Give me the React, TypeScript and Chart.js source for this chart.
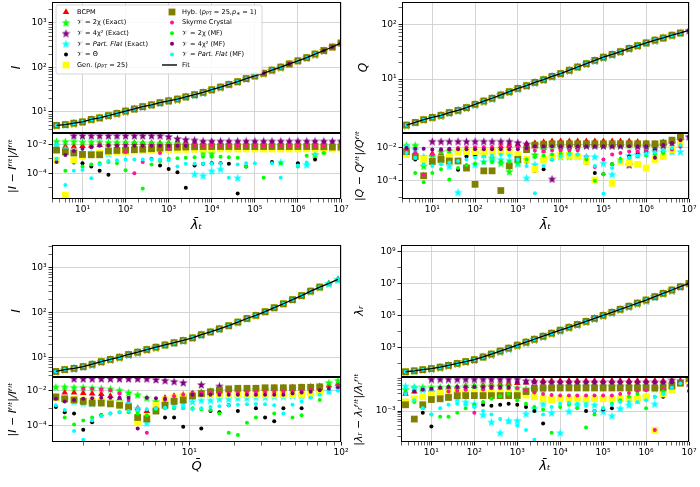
import { useEffect, useRef } from "react";
import { Chart, registerables } from "chart.js";

Chart.register(...registerables);
Chart.defaults.font.family = "'DejaVu Sans', sans-serif";
Chart.defaults.font.size = 9;
Chart.defaults.color = "#000";

const _ = null;
type Val = number | null;

// sample points of λ̄_t (three panels) and of Q̄ (lower-left panel)
const lamGrid = [
  2.5, 4, 6.3, 10, 16, 25, 40, 63, 100, 160,
  250, 400, 630, 1e3, 1.6e3, 2.5e3, 4e3, 6.3e3, 1e4, 1.6e4,
  2.5e4, 4e4, 6.3e4, 1e5, 1.6e5, 2.5e5, 4e5, 6.3e5, 1e6, 1.6e6,
  2.5e6, 4e6, 6.3e6, 1e7,
];
const qGrid = [
  1.32, 1.51, 1.74, 2.0, 2.29, 2.63, 3.02, 3.47, 3.98, 4.57,
  5.25, 6.03, 6.92, 7.94, 9.12, 10.5, 12.0, 13.8, 15.8, 18.2,
  20.9, 24.0, 27.5, 31.6, 36.3, 41.7, 47.9, 55.0, 63.1, 72.4,
  83.2, 95.5,
];

// fitted curves (upper sub-plots)
const fitIvsLam = [
  5.0, 5.2, 5.6, 6.0, 6.8, 7.4, 8.3, 9.3, 10.5, 11.7,
  13.2, 14.5, 16.2, 17.8, 19.5, 21.9, 24.5, 27.5, 31.6, 36.3,
  41.7, 47.9, 56.2, 64.6, 74.1, 87.1, 102, 120, 141, 166,
  200, 240, 288, 355,
];
const fitQvsLam = [
  1.45, 1.62, 1.82, 2.0, 2.19, 2.45, 2.69, 3.02, 3.47, 3.98,
  4.47, 5.13, 5.89, 6.76, 7.59, 8.71, 9.77, 11.2, 12.6, 14.5,
  16.6, 19.1, 21.9, 25.1, 28.2, 31.6, 36.3, 40.7, 45.7, 51.3,
  56.2, 63.1, 69.2, 77.6,
];
const fitIvsQ = [
  4.9, 5.4, 5.75, 6.3, 7.1, 8.1, 9.1, 10.2, 11.7, 13.2,
  15.1, 17, 19.1, 21.4, 24, 27.5, 32.4, 37.2, 43.7, 51.3,
  61.7, 74.1, 87.1, 105, 129, 158, 195, 240, 302, 372,
  447, 550,
];
const fitLrVsLam = [
  28.8, 33, 38.9, 45.7, 56.2, 72.4, 95.5, 126, 166, 245,
  372, 575, 871, 1350, 2090, 3160, 4900, 7590, 1.17e4, 1.78e4,
  2.69e4, 4.17e4, 6.46e4, 1e5, 1.55e5, 2.4e5, 3.72e5, 5.89e5, 9.12e5, 1.48e6,
  2.4e6, 3.89e6, 6.31e6, 1.02e7,
];

// relative residuals, Ī(λ̄_t) panel
const tlBcpm: Val[] = [
  _, 7e-3, 7e-3, 7.5e-3, 8e-3, 9e-3, 1e-2, 1.1e-2, 1.2e-2, 1.2e-2,
  1.2e-2, 1.2e-2, 1.2e-2, 1.2e-2, 1.2e-2, 1.2e-2, 1.1e-2, 1.1e-2, 1.1e-2, 1.1e-2,
  1.1e-2, 1.1e-2, 1.1e-2, 1.1e-2, 1.1e-2, 1.1e-2, 1.1e-2, 1.1e-2, 1.1e-2, 1.1e-2,
  1.1e-2, 1.2e-2, _, _,
];
const tlChi2Ex: Val[] = [
  1.6e-2, 1.6e-2, 1.6e-2, 1.5e-2, 1.5e-2, 1.5e-2, 1.4e-2, 1.4e-2, 1.4e-2, 1.3e-2,
  1.3e-2, 1.3e-2, 1.2e-2, 1.2e-2, 1.1e-2, 9e-3, 5e-3, 3e-3, 2.5e-3, _,
  _, _, _, _, _, _, _, _, _, _,
  2e-3, 4e-3, _, _,
];
const tlChi4Ex: Val[] = [
  _, _, 4e-2, 4e-2, 4e-2, 4e-2, 4e-2, 4e-2, 4e-2, 4e-2,
  4e-2, 4e-2, 4e-2, 3.5e-2, 2.5e-2, 2.2e-2, 2e-2, 1.7e-2, 1.7e-2, 1.7e-2,
  1.7e-2, 1.7e-2, 1.7e-2, 1.7e-2, 1.7e-2, 1.7e-2, 1.7e-2, 1.7e-2, 1.7e-2, 1.7e-2,
  1.7e-2, 1.7e-2, 1.7e-2, 1.7e-2,
];
const tlFlatEx: Val[] = [
  9e-3, 5e-3, 3.5e-3, 2.8e-3, 2.5e-3, 2.5e-3, 2.3e-3, _, _, _,
  _, _, _, _, _, _, 9e-5, 7e-5, 1.5e-4, 2e-4,
  _, 5e-5, _, _, _, _, 6e-4, _, _, 4e-4,
  _, _, _, _,
];
const tlTheta: Val[] = [
  _, _, 5.6e-4, 5e-4, 3e-4, 1.5e-4, 8e-5, _, _, _,
  _, _, 3.5e-4, 2e-4, 1.2e-4, 1e-5, 3.5e-4, 4.5e-4, 5e-4, 5e-4,
  4.5e-4, 4e-6, 3e-4, _, _, 6e-4, _, _, 5e-4, _,
  9e-4, _, _, _,
];
const tlGen: Val[] = [
  8e-4, 3e-6, 8e-4, 1.5e-3, 2e-3, 2.5e-3, 2.8e-3, 3e-3, 3.2e-3, 3.5e-3,
  3.8e-3, 4e-3, 4.2e-3, 4.5e-3, 4.5e-3, 4.5e-3, 4.6e-3, 4.7e-3, 4.8e-3, 4.8e-3,
  4.8e-3, 4.8e-3, 4.8e-3, 4.8e-3, 4.8e-3, 4.8e-3, 4.8e-3, 4.8e-3, 4.8e-3, 4.8e-3,
  4.8e-3, 4.8e-3, 4.8e-3, 4.8e-3,
];
const tlHyb: Val[] = [
  4e-3, 3e-3, 2.5e-3, 2e-3, 1.9e-3, 1.9e-3, 3.5e-3, 3.8e-3, 4e-3, 4.3e-3,
  4.6e-3, 5e-3, 5.5e-3, 6e-3, 6.3e-3, 6.6e-3, 6.8e-3, 7e-3, 7e-3, 7e-3,
  7e-3, 7e-3, 7e-3, 7e-3, 7e-3, 7e-3, 7e-3, 7e-3, 7e-3, 7e-3,
  7e-3, 6.8e-3, 6.5e-3, 6.5e-3,
];
const tlSkyrme: Val[] = [
  _, _, _, _, _, 1e-2, 9e-3, 7e-3, 3e-3, 1e-4,
  6e-4, 1e-3, 2.5e-3, 5e-3, 7e-3, 8e-3, 8e-3, 8e-3, 8e-3, 8e-3,
  8e-3, 8e-3, 8e-3, 8e-3, 8e-3, 8e-3, 8e-3, 8e-3, 8e-3, 8e-3,
  8e-3, 8e-3, _, _,
];
const tlChi2Mf: Val[] = [
  _, 1.5e-4, _, 3e-4, 4e-4, 5e-4, 6e-4, 5e-4, 1.6e-4, _,
  9e-6, 4e-4, 7e-4, 1e-3, 1.1e-3, 1.2e-3, 1.3e-3, 1.4e-3, 1.4e-3, 1.4e-3,
  1.3e-3, 1.2e-3, 3e-4, _, 5e-5, _, 5e-4, _, 3e-4, 1.6e-3,
  1.8e-3, 2.5e-3, _, _,
];
const tlChi4Mf: Val[] = [
  6e-4, 1.8e-3, 3.5e-3, 5e-3, 6.3e-3, 8e-3, 8e-3, 8e-3, 8e-3, 8e-3,
  8e-3, 8e-3, 8e-3, 8e-3, 8e-3, 8e-3, 1.5e-2, 1.5e-2, 1.5e-2, 1.5e-2,
  1.5e-2, 1.5e-2, 1.5e-2, 1.5e-2, 1.5e-2, 1.5e-2, 1.5e-2, 1.5e-2, 1.5e-2, 1.5e-2,
  1.5e-2, 1.5e-2, 1.5e-2, 1.5e-2,
];
const tlFlatMf: Val[] = [
  1e-3, 1.6e-5, 1.5e-4, 1.7e-4, 4.5e-5, 4e-4, 7e-4, 8e-4, 9e-4, 9e-4,
  9e-4, 9e-4, 9e-4, 8e-4, 3e-4, 4.5e-4, 4.5e-4, 4.5e-4, 4.5e-4, 4.5e-4,
  5e-5, 4e-4, 5e-4, 5e-4, _, 5e-4, 5e-5, _, 3.5e-4, 5.5e-4,
  2e-3, _, _, _,
];

// relative residuals, Q̄(λ̄_t) panel
const trBcpm: Val[] = [
  7e-3, 5e-3, 2e-4, 4.5e-3, 4.5e-3, 4.5e-3, 6e-3, 7e-3, 8e-3, 9e-3,
  1e-2, 1.2e-2, 1.4e-2, 1.6e-2, 1.8e-2, 2e-2, 2.3e-2, 2.6e-2, 2.6e-2, 2.6e-2,
  2.6e-2, 2.6e-2, 2.6e-2, 2.6e-2, 2.6e-2, 2.6e-2, 2.6e-2, 2.4e-2, 2e-2, 1.8e-2,
  2.2e-2, 3e-2, _, _,
];
const trChi2Ex: Val[] = [
  1.5e-2, 1.5e-2, 8e-4, 3e-3, 6e-3, 7e-3, 6.5e-3, 6e-3, 5e-3, 4e-3,
  2.5e-3, 1.2e-3, 3.7e-4, 1.2e-3, 2e-3, 4e-3, 8e-3, 1.4e-2, 1.5e-2, 1.5e-2,
  1.5e-2, 1.5e-2, 1.5e-2, 1.5e-2, 1.5e-2, 1.5e-2, 1.5e-2, 1.5e-2, 1.5e-2, 1.5e-2,
  1.5e-2, _, _, _,
];
const trChi4Ex: Val[] = [
  _, _, _, 2.6e-2, 2.6e-2, 2.6e-2, 2.6e-2, 2.6e-2, 2.6e-2, 2.6e-2,
  2.6e-2, 2.6e-2, 2.6e-2, 2.2e-2, 1.8e-2, 1.6e-2, 1.5e-2, 1.3e-4, 1.4e-2, 1.4e-2,
  1.4e-2, 1.4e-2, 1.4e-2, 1.4e-2, 1.4e-2, 1.4e-2, 9.5e-4, 1.3e-2, 1.3e-2, 1.3e-2,
  1.5e-2, 2e-2, 3e-2, 5e-2,
];
const trFlatEx: Val[] = [
  1.2e-2, 8e-3, 3e-3, 2e-3, 1.5e-3, 8e-4, 2e-5, 6e-4, 1e-3, 1.5e-3,
  1.8e-3, 2e-3, 1.8e-3, 1.2e-3, 1.5e-4, 1e-3, 2e-3, 3e-3, 3e-3, 3e-3,
  3e-3, 3e-3, 3e-3, 1.2e-3, 2.5e-4, 2e-3, 3.5e-3, 4e-3, 5e-3, 6e-3,
  6e-3, 6e-3, 6e-3, _,
];
const trTheta: Val[] = [
  _, 2e-3, 2e-4, 1.2e-3, 2e-3, 1.5e-3, 4.7e-4, 3e-3, 4e-3, 5e-3,
  5.5e-3, 5e-3, 4.5e-3, 3e-3, 1.5e-3, 4e-4, 5e-4, 2e-3, 3.5e-3, 4e-3,
  3e-3, 1.2e-3, 3e-4, 2.5e-4, 1e-3, 2e-3, 3e-3, 5e-3, 6e-3, 7e-3,
  _, _, _, _,
];
const trGen: Val[] = [
  4e-3, 3e-3, 2e-3, 1.5e-3, 2e-3, 3e-3, 6e-3, 6e-3, 6e-3, 6e-3,
  6e-3, 6e-3, 6e-3, 4e-3, 2e-3, 5e-4, 2e-3, 3e-3, 3.5e-3, 3.5e-3,
  3e-3, 1.5e-3, 1.1e-4, _, 7e-5, 1.5e-3, 1.2e-3, 1e-3, 6e-4, 2e-3,
  3e-3, 8e-3, 2e-2, _,
];
const trHyb: Val[] = [
  6e-3, 3e-3, 2e-4, 1.5e-3, 2e-3, 1.6e-3, 1.6e-3, 6e-4, 6e-5, 4e-4,
  4e-4, 2.5e-5, 8e-4, 2e-3, 8e-3, 1.5e-2, 1.7e-2, 1.8e-2, 1.8e-2, 1.8e-2,
  1.8e-2, 1.8e-2, 1.8e-2, 1.8e-2, 1.8e-2, 1.8e-2, 1.8e-2, 1.8e-2, 1.8e-2, 1.8e-2,
  2e-2, 3e-2, 5e-2, _,
];
const trSkyrme: Val[] = [
  8e-3, 5e-3, 2.3e-4, 4e-3, 7e-3, 9e-3, 1e-2, 1.1e-2, 1.1e-2, 1.1e-2,
  1.1e-2, 1.1e-2, 1.1e-2, 1.1e-2, 9e-3, 7e-3, 6e-3, 7e-3, 7e-3, 7e-3,
  7e-3, 3e-3, 7e-4, 2e-3, 4e-3, 5e-3, 6e-3, 6e-3, 6e-3, 6e-3,
  6e-3, 8e-3, 1.2e-2, _,
];
const trChi2Mf: Val[] = [
  _, 3e-4, 8e-5, 3e-4, 5e-4, 1.2e-4, 6e-4, 9e-4, 1.1e-3, 1.3e-3,
  1.4e-3, 1.5e-3, 1.4e-3, 1.3e-3, 2e-3, 2.8e-3, 3.5e-3, 4e-3, 4.5e-3, 4.5e-3,
  4e-3, 2e-3, 1e-4, 2.5e-4, 1e-3, 2e-3, 2.5e-3, 3e-3, 3.5e-3, 4e-3,
  5e-3, _, _, _,
];
const trChi4Mf: Val[] = [
  1e-2, 9e-3, 9e-3, 8e-3, 8.5e-3, 8.5e-3, 8.5e-3, 8.5e-3, 8.5e-3, 8.5e-3,
  8.5e-3, 8.5e-3, 8.5e-3, 8.5e-3, 1e-2, 1.3e-2, 1.3e-2, 1.3e-2, 1.3e-2, 1.3e-2,
  1.3e-2, 1.3e-2, 1.3e-2, 1.3e-2, 1.3e-2, 1.3e-2, 1.3e-2, 1.3e-2, 1.3e-2, 2.5e-3,
  1.5e-2, 2e-2, 3e-2, 5e-2,
];
const trFlatMf: Val[] = [
  5e-3, 2.5e-3, 1e-3, 8e-4, 1e-3, 1.3e-3, 1.6e-3, 2e-3, 2.5e-3, 3e-3,
  3.5e-3, 3.8e-3, 3.5e-3, 2e-3, 8e-4, 1.7e-5, 8e-4, 2e-3, 3e-3, 3.8e-3,
  4e-3, 3e-3, 8e-4, 1.6e-5, 6e-4, 1.5e-3, 2.5e-3, 3.5e-3, 4.5e-3, 5.5e-3,
  7e-3, 1e-2, 1.5e-2, _,
];

// relative residuals, Ī(Q̄) panel
const blBcpm: Val[] = [
  _, 8e-3, 8e-3, 7.5e-3, 7e-3, 6.5e-3, 5e-3, 3.5e-3, 2e-3, 1e-3,
  7e-4, 2e-3, 4e-3, 5e-3, 6e-3, 7e-3, 8e-3, 9e-3, 1e-2, 1.2e-2,
  1.3e-2, 1.3e-2, 1.4e-2, 1.4e-2, 1.5e-2, 1.5e-2, 1.6e-2, 1.6e-2, 1.7e-2, 1.8e-2,
  2e-2, 2.5e-2,
];
const blChi2Ex: Val[] = [
  1.7e-2, 1.7e-2, 1.6e-2, 1.6e-2, 1.5e-2, 1.4e-2, 1.3e-2, 1.1e-2, 8e-3, 6e-3,
  4e-3, 2.5e-3, 2e-3, 3e-3, 5e-3, 7e-3, 9e-3, 1e-2, 1.05e-2, 1.1e-2,
  1.1e-2, 1.15e-2, 1.2e-2, 1.2e-2, 1.25e-2, 1.3e-2, 1.4e-2, 1.5e-2, 1.6e-2, 1.8e-2,
  3e-2, 4e-2,
];
const blChi4Ex: Val[] = [
  _, _, 5e-2, 5e-2, 5e-2, 5e-2, 5e-2, 5e-2, 5e-2, 5e-2,
  5e-2, 4.5e-2, 4e-2, 3.5e-2, 3e-2, _, 2.3e-2, _, 1.9e-2, _,
  _, _, _, _, _, _, _, _, _, _,
  _, _,
];
const blFlatEx: Val[] = [
  5e-3, 3.5e-3, 2.5e-3, 2e-3, 2e-3, 2.5e-3, 2.5e-3, 2.5e-3, 2e-3, 1e-3,
  1.5e-4, 8e-4, 1.5e-3, 2e-3, 2e-3, 2.5e-3, 3e-3, 3e-3, 3.5e-3, 3.5e-3,
  4e-3, 4e-3, 4.5e-3, 4.5e-3, 5e-3, 5e-3, 5.5e-3, 5.5e-3, 6e-3, 8e-3,
  1e-2, 1.5e-2,
];
const blTheta: Val[] = [
  1.2e-3, 6e-4, 5e-4, 6e-5, 1.6e-4, 4e-4, _, _, _, _,
  3.5e-4, _, 3e-4, 3e-4, 9e-5, _, 7e-5, 7e-4, 6e-4, 1.5e-3,
  7e-4, _, 1e-3, 3e-4, 1.8e-4, 1e-3, _, 1e-3, _, _,
  _, _,
];
const blGen: Val[] = [
  4e-3, 3.5e-3, 3.2e-3, 3e-3, 2.8e-3, 2.5e-3, 2.2e-3, 1.8e-3, 1.2e-3, 1.5e-4,
  3e-4, 1.5e-3, 3e-3, 4e-3, 5e-3, 6e-3, 6e-3, 6e-3, 6e-3, 6e-3,
  6e-3, 6e-3, 6e-3, 6e-3, 6e-3, 6e-3, 6e-3, 6e-3, 7e-3, 8e-3,
  _, _,
];
const blHyb: Val[] = [
  4.5e-3, 3.5e-3, 3e-3, 2.5e-3, 2e-3, 2e-3, 1.8e-3, 1.5e-3, 1.2e-3, 3e-4,
  2.5e-4, 7e-4, 1.5e-3, 2.5e-3, 3e-3, 5e-3, 7e-3, 9e-3, 1.1e-2, 1.3e-2,
  1.4e-2, 1.4e-2, 1.4e-2, 1.5e-2, 1.5e-2, 1.5e-2, 1.5e-2, 1.6e-2, 1.6e-2, 1.7e-2,
  _, _,
];
const blSkyrme: Val[] = [
  _, _, _, 1.3e-2, 1.3e-2, 1.2e-2, 1.1e-2, 7e-3, 3e-3, 8e-4,
  4e-5, 1e-3, 3e-3, 5e-3, 6e-3, 8e-3, 8e-3, 8e-3, 8e-3, 8e-3,
  8e-3, 8.5e-3, 8.5e-3, 8.5e-3, 8.5e-3, 9e-3, 9e-3, 1e-2, 1.2e-2, _,
  _, _,
];
const blChi2Mf: Val[] = [
  _, 3e-4, 1.2e-4, 2e-4, 3e-4, 4e-4, 5e-4, 6e-4, 6e-4, 5e-4,
  4e-4, 9e-4, 1e-3, 1e-3, 1e-3, 1e-3, 9e-4, 8e-4, 5e-4, 4e-5,
  3e-5, 1.5e-4, 3e-4, _, 5e-4, _, 3e-4, 4e-4, _, 3e-3,
  _, _,
];
const blChi4Mf: Val[] = [
  3.5e-3, 2.5e-3, 3e-3, 3.5e-3, 3.8e-3, 4e-3, 4e-3, 4e-3, 4e-3, 7e-5,
  4e-3, 3.8e-3, 3.5e-3, _, _, 6e-3, 6e-3, 6e-3, 6e-3, 6e-3,
  6e-3, 6e-3, 6e-3, 6e-3, 6e-3, 6e-3, 7e-3, 8e-3, 9e-3, 1.1e-2,
  1.3e-2, 1.6e-2,
];
const blFlatMf: Val[] = [
  1.5e-3, 8e-4, 5e-5, 1.6e-5, 2e-4, 3.5e-4, 5e-4, 6e-4, 7e-4, 8e-4,
  9e-4, 1e-3, 1.1e-3, 1.2e-3, 1.1e-3, 9e-4, 1e-3, 1.2e-3, 1.3e-3, 1.5e-3,
  1.6e-3, 1.7e-3, 1.8e-3, 1.7e-3, 1.5e-3, 5e-4, 1.6e-3, 2.5e-3, 4e-3, 6e-3,
  8e-3, 1e-2,
];

// relative residuals, λ̄_r(λ̄_t) panel
const brBcpm: Val[] = [
  3e-3, 3.5e-3, 4e-3, 4e-3, 4.2e-3, 4.5e-3, 4.7e-3, 5e-3, 5e-3, 5.2e-3,
  5.4e-3, 5.6e-3, 5.8e-3, 6e-3, 6.2e-3, 7e-3, 7e-3, 7e-3, 7e-3, 7e-3,
  7e-3, 7e-3, 7e-3, 7e-3, 7e-3, 7e-3, 7e-3, 7e-3, 7e-3, 7e-3,
  7e-3, 7e-3, 7e-3, 7.5e-3,
];
const brChi2Ex: Val[] = [
  4e-3, 4.7e-3, 4.7e-3, 4.7e-3, 4.7e-3, 4.7e-3, 4.7e-3, 5e-3, 5e-3, 5e-3,
  5e-3, 5e-3, 5e-3, 4.5e-3, 4.2e-3, 4e-3, 4.2e-3, 4.5e-3, 5e-3, 5e-3,
  5e-3, 5e-3, 5e-3, 5e-3, 5e-3, 5e-3, 5e-3, 5e-3, 5e-3, 4.3e-3,
  5.5e-3, 6e-3, _, _,
];
const brChi4Ex: Val[] = [
  _, _, _, 7.8e-3, 7.8e-3, 7.8e-3, 7.8e-3, 7.8e-3, 7.8e-3, 7.8e-3,
  7.8e-3, 7.8e-3, 7.8e-3, 7.8e-3, 7e-3, 6.8e-3, 6.5e-3, 6.5e-3, 6.5e-3, 6.5e-3,
  6.5e-3, 6.5e-3, 6.5e-3, 6.5e-3, 6.5e-3, 6.5e-3, 6.5e-3, 6.5e-3, 6.5e-3, 6.5e-3,
  6.5e-3, 7.4e-3, 7e-3, 6e-3,
];
const brFlatEx: Val[] = [
  5e-3, 4.5e-3, 4e-3, 3.5e-3, 3e-3, 2.5e-3, 2.2e-3, 1.8e-3, 1.6e-3, 8e-4,
  5e-4, 2.5e-4, 5.5e-4, 5.5e-4, 8.5e-4, 1.2e-3, 1.6e-3, 9e-4, 2.5e-4, 1e-3,
  1.5e-3, 1.8e-3, 1.5e-3, 1e-3, 7.4e-4, 1.2e-3, 1.5e-3, 2e-3, 2.5e-3, 1.6e-3,
  3e-3, 4e-3, _, _,
];
const brTheta: Val[] = [
  _, _, 9e-4, 3.7e-4, _, _, _, _, _, 1.5e-3,
  1.4e-3, 1.5e-3, 1.6e-3, 1.5e-3, 1.3e-3, 1e-3, 4.5e-4, _, _, _,
  _, 1e-3, 1e-3, 1.1e-3, 1.2e-3, _, _, _, _, _,
  2.5e-3, _, _, _,
];
const brGen: Val[] = [
  1.8e-3, 2.2e-3, 2.5e-3, 2.8e-3, 3.2e-3, 3.2e-3, 3.2e-3, 3.2e-3, 3.2e-3, 3.2e-3,
  3.2e-3, 3.2e-3, 3.2e-3, 3e-3, 2.8e-3, 2.5e-3, 2.2e-3, 2.1e-3, 2.2e-3, 2.2e-3,
  2.2e-3, 2.2e-3, 2.2e-3, 2.2e-3, 2.2e-3, 2.2e-3, 2.2e-3, 2.2e-3, 2.5e-3, 2.9e-4,
  3e-3, 4e-3, 6e-3, 7e-3,
];
const brHyb: Val[] = [
  1.5e-3, 6e-4, 1.5e-3, 2.1e-3, 2.2e-3, 2.4e-3, 2.7e-3, 2.7e-3, 2.7e-3, 2.7e-3,
  2.7e-3, 2.7e-3, 2.7e-3, 2.7e-3, 3.5e-3, 4.3e-3, 4.4e-3, 4.4e-3, 4.4e-3, 4.4e-3,
  4.4e-3, 4.4e-3, 4.4e-3, 4.4e-3, 4.4e-3, 4.4e-3, 4.4e-3, 4.4e-3, 4.4e-3, 4.4e-3,
  4.4e-3, 5e-3, 6e-3, 8e-3,
];
const brSkyrme: Val[] = [
  _, _, _, _, _, 3.5e-3, 3.7e-3, 3.9e-3, 9e-4, 4e-3,
  4.3e-3, 4.3e-3, 4.3e-3, 4.3e-3, 3.8e-3, 3.3e-3, 3e-3, 2.8e-3, 2.7e-3, 2.7e-3,
  2.7e-3, 2.7e-3, 2.7e-3, 2.7e-3, 2.7e-3, 3e-3, 3.2e-3, 3.5e-3, 3.8e-3, 3e-4,
  4e-3, 4.5e-3, _, _,
];
const brChi2Mf: Val[] = [
  3e-3, 1.8e-3, 1.2e-3, 8e-4, 7e-4, 7e-4, 9e-4, 1.2e-3, 1.5e-3, 1.8e-3,
  2.2e-3, 2.6e-3, 3e-3, 2e-3, 1.6e-3, 1.3e-3, 1.1e-3, 2.5e-4, 1.3e-3, 1.5e-3,
  1.2e-3, 3.5e-4, 8e-4, 1.2e-3, 1.6e-3, 2e-3, 2.5e-3, 3e-3, 1.2e-3, 2.5e-3,
  3.5e-3, _, _, _,
];
const brChi4Mf: Val[] = [
  3e-3, 3.5e-3, 4e-3, 4.2e-3, 4.5e-3, 4.7e-3, 4.7e-3, 4.7e-3, 4.7e-3, 4.7e-3,
  4.7e-3, 4.7e-3, 4.7e-3, 6.3e-3, 6.3e-3, 6.3e-3, 6.3e-3, 6.3e-3, 6.3e-3, 6.3e-3,
  6.3e-3, 6.3e-3, 6.3e-3, 6.3e-3, 6.3e-3, 6.3e-3, 6.3e-3, 6.3e-3, 6.3e-3, 6.3e-3,
  6.3e-3, 6.3e-3, 6.3e-3, 3.6e-3,
];
const brFlatMf: Val[] = [
  3e-3, 2e-3, 1.2e-3, 8e-4, 1.2e-3, 1.5e-3, 1.6e-3, 1.5e-3, 1.3e-3, 1e-3,
  8e-4, 6e-4, 5e-4, 4e-4, 3e-4, 1.6e-4, 8e-4, 1.3e-3, 1.6e-3, 1.7e-3,
  1.6e-3, 1.4e-3, 1e-3, 1.2e-3, 1.5e-3, 1.8e-3, 1.8e-3, 1.8e-3, 2e-3, 2.5e-3,
  3e-3, 4.5e-3, 6e-3, _,
];

// ---- styling ----
type Shape = "triangle" | "star" | "circle" | "rect";
type Part = { t: string; sub?: boolean; it?: boolean };
type Series = { color: string; shape: Shape; r: number; label: Part[] };

const V = "\u{1D4B1}";
const MAC = "\u0304";
const FIT = "\u1DA0\u2071\u1D57";
const I_BAR = "\u012A";
const Q_BAR = "Q" + MAC;
const LT = "\u03BB" + MAC + "\u209C";
const LR = "\u03BB" + MAC + "\u1D63";

const SERIES: Series[] = [
  { color: "#ff0000", shape: "triangle", r: 3.8, label: [{ t: "BCPM" }] },
  { color: "#00ff00", shape: "star", r: 4, label: [{ t: `${V} = 2\u03C7 (Exact)` }] },
  { color: "#800080", shape: "star", r: 4, label: [{ t: `${V} = 4\u03C7\u00B2 (Exact)` }] },
  { color: "#00ffff", shape: "star", r: 4, label: [{ t: `${V} = ` }, { t: "Part. Flat", it: true }, { t: " (Exact)" }] },
  { color: "#000000", shape: "circle", r: 2, label: [{ t: `${V} = \u0398` }] },
  { color: "#ffff00", shape: "rect", r: 4.8, label: [{ t: "Gen. (" }, { t: "p", it: true }, { t: "PT", sub: true }, { t: " = 25)" }] },
  {
    color: "#808000", shape: "rect", r: 4.8,
    label: [{ t: "Hyb. (" }, { t: "p", it: true }, { t: "PT", sub: true }, { t: " = 25," }, { t: "p", it: true }, { t: "\u2217", sub: true }, { t: " = 1)" }],
  },
  { color: "#ff1493", shape: "circle", r: 2, label: [{ t: "Skyrme Crystal" }] },
  { color: "#00ff00", shape: "circle", r: 2, label: [{ t: `${V} = 2\u03C7 (MF)` }] },
  { color: "#800080", shape: "circle", r: 2, label: [{ t: `${V} = 4\u03C7\u00B2 (MF)` }] },
  { color: "#00ffff", shape: "circle", r: 2, label: [{ t: `${V} = ` }, { t: "Part. Flat", it: true }, { t: " (MF)" }] },
];

const starCache: Record<string, HTMLCanvasElement> = {};
function starImage(color: string): HTMLCanvasElement {
  if (starCache[color]) return starCache[color];
  const size = 9;
  const c = document.createElement("canvas");
  c.width = size;
  c.height = size;
  const g = c.getContext("2d")!;
  const R = size / 2;
  g.beginPath();
  for (let i = 0; i < 10; i++) {
    const a = -Math.PI / 2 + (i * Math.PI) / 5;
    const rr = i % 2 === 0 ? R : R * 0.42;
    g.lineTo(R + rr * Math.cos(a), R + 0.5 + rr * Math.sin(a));
  }
  g.closePath();
  g.fillStyle = color;
  g.fill();
  starCache[color] = c;
  return c;
}

function drawMarker(ctx: CanvasRenderingContext2D, s: Series, x: number, y: number) {
  ctx.fillStyle = s.color;
  if (s.shape === "star") {
    const img = starImage(s.color);
    ctx.drawImage(img, x - img.width / 2, y - img.height / 2);
    return;
  }
  ctx.beginPath();
  if (s.shape === "circle") ctx.arc(x, y, s.r, 0, Math.PI * 2);
  else if (s.shape === "rect") {
    const h = s.r * Math.SQRT1_2;
    ctx.rect(x - h, y - h, 2 * h, 2 * h);
  } else {
    const w = s.r * Math.sin((2 * Math.PI) / 3);
    ctx.moveTo(x, y - s.r);
    ctx.lineTo(x + w, y + s.r / 2);
    ctx.lineTo(x - w, y + s.r / 2);
    ctx.closePath();
  }
  ctx.fill();
}

function drawRich(ctx: CanvasRenderingContext2D, parts: Part[], x: number, y: number, size: number) {
  let cx = x;
  ctx.textBaseline = "middle";
  ctx.textAlign = "left";
  ctx.fillStyle = "#000";
  for (const p of parts) {
    const fs = p.sub ? size * 0.72 : size;
    ctx.font = `${p.it ? "italic " : ""}${fs}px 'DejaVu Sans'`;
    ctx.fillText(p.t, cx, p.sub ? y + size * 0.3 : y);
    cx += ctx.measureText(p.t).width;
  }
}

const framePlugin = {
  id: "frame",
  afterDatasetsDraw(chart: any) {
    const { ctx, chartArea: a } = chart;
    ctx.save();
    ctx.strokeStyle = "#000";
    ctx.lineWidth = 1;
    const l = Math.round(a.left) + 0.5, t = Math.round(a.top) + 0.5;
    const r = Math.round(a.right) - 0.5, b = Math.round(a.bottom) - 0.5;
    ctx.strokeRect(l, t, r - l, b - t);
    ctx.restore();
  },
};

const legendPlugin = {
  id: "boxLegend",
  afterDraw(chart: any) {
    const { ctx, chartArea: a } = chart;
    const L = a.left + 4, T = a.top + 3, W = 206, H = 69;
    ctx.save();
    ctx.beginPath();
    ctx.roundRect(L, T, W, H, 2);
    ctx.fillStyle = "rgba(255,255,255,0.85)";
    ctx.fill();
    ctx.strokeStyle = "#cccccc";
    ctx.lineWidth = 0.8;
    ctx.stroke();
    const n = SERIES.length + 1;
    for (let i = 0; i < n; i++) {
      const col = Math.floor(i / 6), row = i % 6;
      const cy = T + 7 + row * 10.6;
      const mx = L + (col ? 116 : 10);
      const tx = L + (col ? 126 : 21);
      if (i < SERIES.length) {
        drawMarker(ctx, SERIES[i], mx, cy);
        drawRich(ctx, SERIES[i].label, tx, cy, 6.6);
      } else {
        ctx.strokeStyle = "#000";
        ctx.lineWidth = 1.4;
        ctx.beginPath();
        ctx.moveTo(L + 106, cy);
        ctx.lineTo(L + 121, cy);
        ctx.stroke();
        drawRich(ctx, [{ t: "Fit" }], tx, cy, 6.6);
      }
    }
    ctx.restore();
  },
};

// ---- axes ----
type Tick = { value: number; major: boolean };
type Axis = { min: number; max: number; ticks: Tick[]; labels: boolean; title?: string; titleSize?: number };
type Box = { l: number; t: number; r: number; b: number };
type PlotSpec = { box: Box; x: Axis; y: Axis; yw: number; xh: number; build: () => any[]; legend?: boolean };

const SUP: Record<string, string> = {
  "0": "\u2070", "1": "\u00B9", "2": "\u00B2", "3": "\u00B3", "4": "\u2074",
  "5": "\u2075", "6": "\u2076", "7": "\u2077", "8": "\u2078", "9": "\u2079", "-": "\u207B",
};
const decade = (v: number) =>
  "10" + String(Math.round(Math.log10(v))).split("").map((c) => SUP[c]).join("");

function logTicks(min: number, max: number, every = 1, rem = 0, subs = true): Tick[] {
  const out: Tick[] = [];
  const e0 = Math.floor(Math.log10(min));
  const e1 = Math.ceil(Math.log10(max));
  for (let e = e0; e <= e1; e++) {
    const base = Math.pow(10, e);
    out.push({ value: base, major: (((e % every) + every) % every) === rem });
    if (subs && every === 1) for (let m = 2; m <= 9; m++) out.push({ value: m * base, major: false });
  }
  return out.filter((t) => t.value >= min * 0.9999 && t.value <= max * 1.0001);
}

const GRID = "#d0d0d0";

function axisOptions(a: Axis, axis: "x" | "y", size: number) {
  return {
    type: "logarithmic",
    position: axis === "x" ? "bottom" : "left",
    min: a.min,
    max: a.max,
    bounds: "data",
    afterBuildTicks: (s: any) => {
      s.ticks = a.ticks.map((t) => ({ value: t.value, major: t.major }));
    },
    afterFit: (s: any) => {
      if (axis === "x") s.height = size;
      else s.width = size;
    },
    border: { display: false },
    grid: {
      color: (c: any) => (c.tick && c.tick.major ? GRID : "rgba(0,0,0,0)"),
      lineWidth: 0.9,
      drawTicks: a.labels,
      tickLength: 3.5,
      tickColor: "#000",
      tickWidth: (c: any) => (c.tick && c.tick.major ? 0.9 : 0.6),
    },
    ticks: {
      display: a.labels,
      autoSkip: false,
      maxRotation: 0,
      minRotation: 0,
      padding: 2,
      color: "#000",
      font: { size: 9 },
      callback: (v: number, i: number, ts: any[]) => (ts[i] && ts[i].major ? decade(v) : ""),
    },
    title: a.title
      ? { display: true, text: a.title, color: "#000", padding: 0, font: { size: a.titleSize ?? 11, style: "italic" } }
      : { display: false },
  };
}

// ---- datasets ----
function markerSet(s: Series, i: number, data: { x: number; y: number }[]) {
  return {
    data,
    pointStyle: s.shape === "star" ? starImage(s.color) : s.shape,
    pointRadius: s.r,
    pointHoverRadius: s.r,
    pointBackgroundColor: s.color,
    pointBorderColor: s.color,
    pointBorderWidth: 0,
    showLine: false,
    order: SERIES.length + 1 - i,
    clip: 0,
  };
}

function upperSets(grid: number[], fit: number[], res: Val[][]) {
  const sets: any[] = SERIES.map((s, i) =>
    markerSet(s, i, grid.flatMap((x, k) => (res[i][k] == null ? [] : [{ x, y: fit[k] }])))
  );
  sets.push({
    data: grid.map((x, k) => ({ x, y: fit[k] })),
    showLine: true,
    borderColor: "#000",
    borderWidth: 1.3,
    pointRadius: 0,
    pointHoverRadius: 0,
    order: 0,
    clip: 0,
  });
  return sets;
}

function lowerSets(grid: number[], res: Val[][]) {
  return SERIES.map((s, i) =>
    markerSet(s, i, grid.flatMap((x, k) => (res[i][k] == null ? [] : [{ x, y: res[i][k] as number }])))
  );
}

const tlRes = [tlBcpm, tlChi2Ex, tlChi4Ex, tlFlatEx, tlTheta, tlGen, tlHyb, tlSkyrme, tlChi2Mf, tlChi4Mf, tlFlatMf];
const trRes = [trBcpm, trChi2Ex, trChi4Ex, trFlatEx, trTheta, trGen, trHyb, trSkyrme, trChi2Mf, trChi4Mf, trFlatMf];
const blRes = [blBcpm, blChi2Ex, blChi4Ex, blFlatEx, blTheta, blGen, blHyb, blSkyrme, blChi2Mf, blChi4Mf, blFlatMf];
const brRes = [brBcpm, brChi2Ex, brChi4Ex, brFlatEx, brTheta, brGen, brHyb, brSkyrme, brChi2Mf, brChi4Mf, brFlatMf];

const lamAxis = (labels: boolean): Axis => ({
  min: 1.96, max: 1e7, ticks: logTicks(1.96, 1e7), labels, title: labels ? LT : undefined, titleSize: 13,
});
const qAxis = (labels: boolean): Axis => ({
  min: 1.245, max: 100, ticks: logTicks(1.245, 100), labels, title: labels ? Q_BAR : undefined, titleSize: 13,
});
const yAxis = (min: number, max: number, title: string, every = 1, rem = 0, subs = true, size = 11): Axis => ({
  min, max, ticks: logTicks(min, max, every, rem, subs), labels: true, title, titleSize: size,
});

const resTitle = (q: string) => `|${q} \u2212 ${q}${FIT}|/${q}${FIT}`;

const PLOTS: PlotSpec[] = [
  {
    box: { l: 52, t: 2, r: 341, b: 133 }, yw: 42, xh: 0, legend: true,
    x: lamAxis(false), y: yAxis(3.37, 2951, I_BAR, 1, 0, true, 12),
    build: () => upperSets(lamGrid, fitIvsLam, tlRes),
  },
  {
    box: { l: 52, t: 133, r: 341, b: 199 }, yw: 45, xh: 34,
    x: lamAxis(true), y: yAxis(1.7e-6, 0.0603, resTitle(I_BAR), 2, 0, false),
    build: () => lowerSets(lamGrid, tlRes),
  },
  {
    box: { l: 402, t: 2, r: 689, b: 133 }, yw: 45, xh: 0,
    x: lamAxis(false), y: yAxis(1.04, 254, Q_BAR, 1, 0, true, 12),
    build: () => upperSets(lamGrid, fitQvsLam, trRes),
  },
  {
    box: { l: 402, t: 133, r: 689, b: 199 }, yw: 48, xh: 34,
    x: lamAxis(true), y: yAxis(7.6e-6, 0.0826, resTitle(Q_BAR), 2, 0, false),
    build: () => lowerSets(lamGrid, trRes),
  },
  {
    box: { l: 52, t: 245, r: 341, b: 377 }, yw: 42, xh: 0,
    x: qAxis(false), y: yAxis(3.69, 3214, I_BAR, 1, 0, true, 12),
    build: () => upperSets(qGrid, fitIvsQ, blRes),
  },
  {
    box: { l: 52, t: 377, r: 341, b: 442 }, yw: 45, xh: 32,
    x: qAxis(true), y: yAxis(1.19e-5, 0.0621, resTitle(I_BAR), 2, 0, false),
    build: () => lowerSets(qGrid, blRes),
  },
  {
    box: { l: 401, t: 245, r: 689, b: 377 }, yw: 48, xh: 0,
    x: lamAxis(false), y: yAxis(13.5, 2.6e9, LR, 2, 1, false, 12),
    build: () => upperSets(lamGrid, fitLrVsLam, brRes),
  },
  {
    box: { l: 401, t: 377, r: 689, b: 442 }, yw: 48, xh: 32,
    x: lamAxis(true), y: yAxis(1.38e-4, 8.9e-3, resTitle(LR), 1, 0, true),
    build: () => lowerSets(lamGrid, brRes),
  },
];

const PT = 9, PR = 14, PB = 9;

function LogPlot({ spec }: { spec: PlotSpec }) {
  const canvasRef = useRef<HTMLCanvasElement | null>(null);
  const { box, x, y, yw, xh, legend } = spec;
  const w = box.r - box.l + yw + PR;
  const h = PT + box.b - box.t + (xh > 0 ? xh : PB);

  useEffect(() => {
    if (!canvasRef.current) return;
    const chart = new Chart(canvasRef.current, {
      type: "scatter",
      data: { datasets: spec.build() },
      options: {
        animation: false,
        responsive: false,
        events: [],
        layout: { padding: { top: PT, right: PR, bottom: xh > 0 ? 0 : PB, left: 0 } },
        plugins: { legend: { display: false }, tooltip: { enabled: false } },
        scales: { x: axisOptions(x, "x", xh), y: axisOptions(y, "y", yw) },
      },
      plugins: legend ? [framePlugin, legendPlugin] : [framePlugin],
    } as any);
    return () => chart.destroy();
  }, [spec]);

  return (
    <canvas
      ref={canvasRef}
      width={w}
      height={h}
      style={{ position: "absolute", left: box.l - yw, top: box.t - PT, width: w, height: h }}
    />
  );
}

export default function App() {
  return (
    <div style={{ position: "fixed", left: 0, top: 0, width: 700, height: 487, background: "#fff", overflow: "hidden" }}>
      {PLOTS.map((p, i) => (
        <LogPlot key={i} spec={p} />
      ))}
    </div>
  );
}
